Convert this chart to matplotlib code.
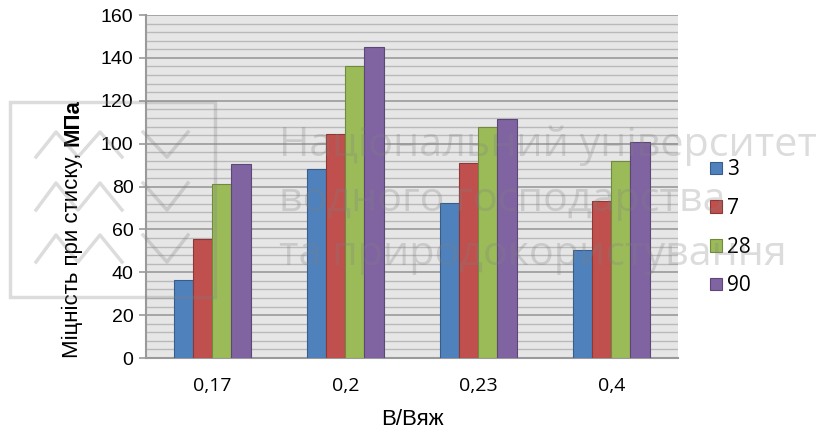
import matplotlib

matplotlib.use("Agg")
import matplotlib.pyplot as plt
import numpy as np
from matplotlib.ticker import MultipleLocator

plt.rcParams["font.family"] = ["Liberation Sans", "DejaVu Sans"]

CATEGORIES = ["0,17", "0,2", "0,23", "0,4"]
SERIES_LABELS = ["3", "7", "28", "90"]
DAYS_3 = [36.4, 88.2, 72.4, 50.5]
DAYS_7 = [55.5, 104.3, 90.8, 73.4]
DAYS_28 = [81.2, 136.0, 107.7, 91.7]
DAYS_90 = [90.3, 144.9, 111.5, 100.9]

SERIES_VALUES = [DAYS_3, DAYS_7, DAYS_28, DAYS_90]
FACE_COLORS = ["#4f81bd", "#c0504d", "#9bbb59", "#8064a2"]
EDGE_COLORS = ["#385d8a", "#8c3836", "#71893f", "#5c4776"]
WATERMARK_LINES = [
    "Національний університет",
    "водного господарства",
    "та природокористування",
]

figure = plt.figure(figsize=(8.37, 4.30), dpi=100)
axis = figure.add_axes([0.1744, 0.1674, 0.6356, 0.7976])
axis.set_facecolor("#e6e6e6")

positions = np.arange(len(CATEGORIES))
bar_width = 0.143
for index, values in enumerate(SERIES_VALUES):
    offset = (index - 1.5) * bar_width
    axis.bar(
        positions + offset,
        values,
        bar_width,
        color=FACE_COLORS[index],
        edgecolor=EDGE_COLORS[index],
        linewidth=0.8,
        label=SERIES_LABELS[index],
        zorder=3,
    )

axis.set_xlim(-0.5, len(CATEGORIES) - 0.5)
axis.set_ylim(0, 160)
axis.yaxis.set_major_locator(MultipleLocator(20))
axis.yaxis.set_minor_locator(MultipleLocator(4))
axis.grid(axis="y", which="major", color="#9a9a9a", linewidth=1.2, zorder=1)
axis.grid(axis="y", which="minor", color="#b9b9b9", linewidth=1.0, zorder=1)
axis.set_axisbelow(True)

axis.set_xticks(positions, CATEGORIES, family=["Open Sans", "DejaVu Sans"])
axis.tick_params(axis="x", length=0, pad=14, labelsize=14)
axis.tick_params(axis="y", which="major", length=5, width=1.2, color="#9a9a9a",
                 pad=4, labelsize=14)
axis.tick_params(axis="y", which="minor", length=0)

for side in ("top", "right"):
    axis.spines[side].set_visible(False)
for side in ("left", "bottom"):
    axis.spines[side].set_color("#9a9a9a")
    axis.spines[side].set_linewidth(1.5)

axis.set_xlabel("В/Вяж", fontsize=16, labelpad=10)

legend = axis.legend(
    loc="center left",
    bbox_to_anchor=(0.826, 0.47),
    bbox_transform=figure.transFigure,
    frameon=False,
    handlelength=0.55,
    handleheight=0.55,
    handletextpad=0.25,
    labelspacing=0.85,
    prop={"family": ["Open Sans", "DejaVu Sans"], "size": 15},
)

# підпис осі Y зі звичайною та жирною частинами
label_x = 0.087
normal_part = figure.text(label_x, (430 - 358) / 430, "Міцність при стиску, ",
                          rotation=90, ha="center", va="bottom", fontsize=16)
figure.canvas.draw()
renderer = figure.canvas.get_renderer()
extent = normal_part.get_window_extent(renderer)
figure.text(label_x, extent.y1 / figure.bbox.height, "МПа", rotation=90,
            ha="center", va="bottom", fontsize=16, fontweight="bold")

# водяний знак
for line_index, line in enumerate(WATERMARK_LINES):
    figure.text(0.333, 0.66 - line_index * 0.126, line, fontsize=29.7,
                family=["Open Sans", "DejaVu Sans"], color="#808080",
                alpha=0.27, ha="left", va="center", zorder=10)

logo_rect = plt.Rectangle((10 / 837, 1 - 297 / 430), 205 / 837, 195 / 430,
                          transform=figure.transFigure, fill=False,
                          edgecolor="#808080", alpha=0.27, linewidth=2.5,
                          zorder=10)
figure.add_artist(logo_rect)
for base, peak in [(157, 132), (210, 183), (262, 235)]:
    zig_x = [36, 56, 78, 100, 122]
    zig_y = [base, peak, base, peak, base]
    vee_x = [143, 167, 188]
    vee_y = [peak, base, peak]
    for xs, ys in [(zig_x, zig_y), (vee_x, vee_y)]:
        figure.add_artist(plt.Line2D(
            [value / 837 for value in xs],
            [1 - value / 430 for value in ys],
            transform=figure.transFigure, color="#808080", alpha=0.27,
            linewidth=2.5, zorder=10))

figure.savefig("out.png", dpi=100)
plt.close(figure)
